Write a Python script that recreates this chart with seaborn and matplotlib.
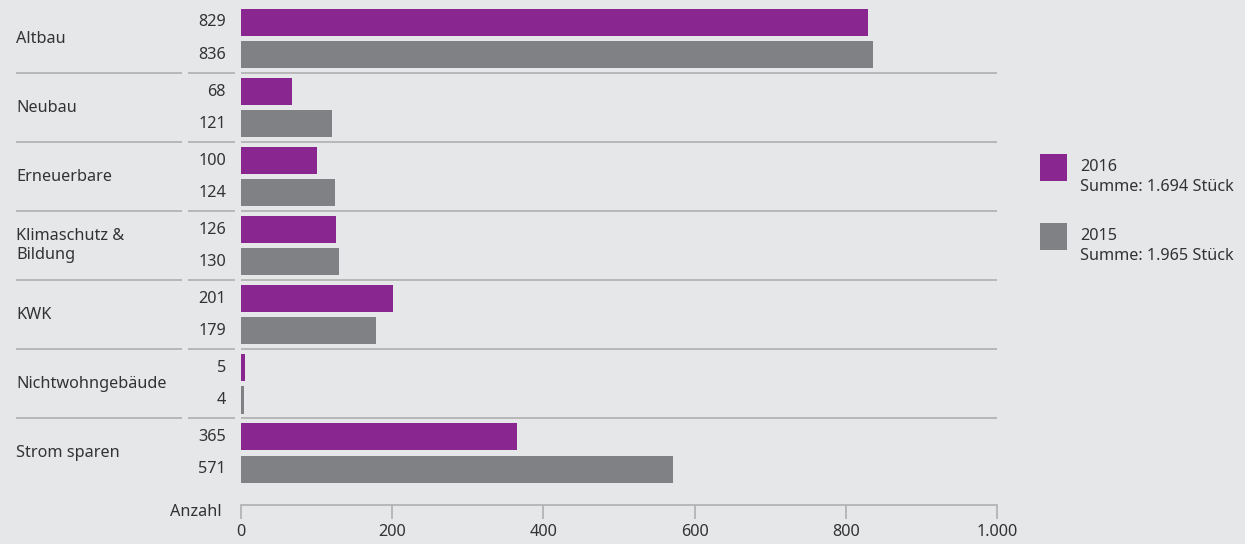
import matplotlib
matplotlib.use("Agg")
import matplotlib.pyplot as plt
import matplotlib.transforms as mtransforms
from matplotlib.patches import Rectangle
import pandas as pd
import seaborn as sns

categories = ["Altbau", "Neubau", "Erneuerbare", "Klimaschutz &\nBildung", "KWK",
              "Nichtwohngebäude", "Strom sparen"]
values_2016 = [829, 68, 100, 126, 201, 5, 365]
values_2015 = [836, 121, 124, 130, 179, 4, 571]
years = ["2016", "2015"]
legend_sums = ["Summe: 1.694 Stück", "Summe: 1.965 Stück"]
x_ticks = [0, 200, 400, 600, 800, 1000]
x_tick_labels = ["0", "200", "400", "600", "800", "1.000"]

BG = "#e6e7e9"
PURPLE = "#8a2690"
GREY = "#808184"
TEXT = "#333333"
RULE = "#b4b4b4"
FS = 11.7

sns.set_theme(style="white")
plt.rcParams["font.family"] = ["Noto Sans", "DejaVu Sans"]

df = pd.DataFrame({
    "Kategorie": categories * 2,
    "Jahr": [years[0]] * len(categories) + [years[1]] * len(categories),
    "Anzahl": values_2016 + values_2015,
})

W, H = 1245, 544
fig = plt.figure(figsize=(W / 100, H / 100), dpi=100, facecolor=BG)
ax = fig.add_axes([241 / W, 1 - 505 / H, 756 / W, (505 - 4) / H])
ax.set_facecolor(BG)

sns.barplot(data=df, y="Kategorie", x="Anzahl", hue="Jahr", hue_order=years,
            order=categories, orient="h", palette=[PURPLE, GREY],
            width=0.932, gap=0.157, saturation=1, errorbar=None, ax=ax, legend=False,
            linewidth=0, edgecolor="none")

ax.set_ylim(6.753, -0.5)
ax.set_xlim(0, 1000)
ax.set_xticks(x_ticks)
ax.set_xticklabels(x_tick_labels, fontsize=FS, color=TEXT)
ax.set_yticks([])
ax.set_xlabel("")
ax.set_ylabel("")
for side in ["top", "right", "left"]:
    ax.spines[side].set_visible(False)
ax.spines["bottom"].set_color(RULE)
ax.spines["bottom"].set_linewidth(1.3)
ax.tick_params(axis="x", direction="out", length=10, width=1.3, color=RULE, pad=4,
               bottom=True)

# figure-x / data-y transform for labels and rules left of the plot area
tr = mtransforms.blended_transform_factory(fig.transFigure, ax.transData)

def fx(px):
    return px / W

offset = 0.233
for i, cat in enumerate(categories):
    ax.text(fx(16), i, cat, transform=tr, ha="left", va="center", fontsize=FS,
            color=TEXT, linespacing=1.25, clip_on=False)
    ax.text(fx(226), i - offset, f"{values_2016[i]}", transform=tr, ha="right",
            va="center", fontsize=FS, color=TEXT, clip_on=False)
    ax.text(fx(226), i + offset, f"{values_2015[i]}", transform=tr, ha="right",
            va="center", fontsize=FS, color=TEXT, clip_on=False)
    if i < len(categories) - 1:
        for x0, x1 in [(16, 182), (188, 235), (241, 997)]:
            ax.plot([fx(x0), fx(x1)], [i + 0.5, i + 0.5], transform=tr, color=RULE,
                    lw=1.3, clip_on=False, solid_capstyle="butt")

fig.text(fx(222), 1 - 512 / H, "Anzahl", ha="right", va="center", fontsize=FS, color=TEXT)

# legend
for k, (yr, s, col) in enumerate(zip(years, legend_sums, [PURPLE, GREY])):
    top = 154 + k * 69
    fig.patches.append(Rectangle((fx(1040), 1 - (top + 27) / H), 27 / W, 27 / H,
                                 transform=fig.transFigure, facecolor=col,
                                 edgecolor="none"))
    fig.text(fx(1080), 1 - (top + 13) / H, yr, ha="left", va="center", fontsize=FS,
             color=TEXT)
    fig.text(fx(1080), 1 - (top + 33) / H, s, ha="left", va="center", fontsize=FS,
             color=TEXT)

fig.savefig("out.png", dpi=100, facecolor=BG)
